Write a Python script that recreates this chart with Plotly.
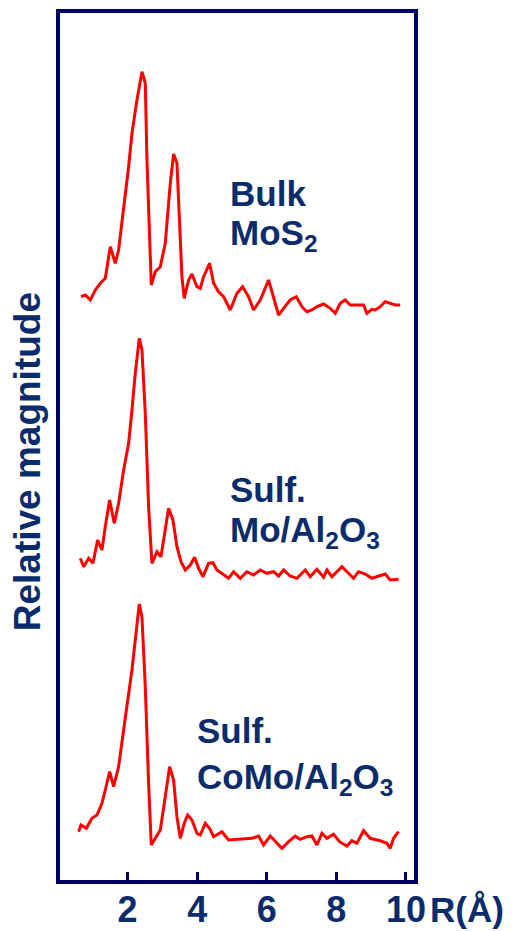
import plotly.graph_objects as go

# Bulk MoS2
r_bulk = [0.660, 0.785, 0.928, 1.072, 1.216, 1.359, 1.503, 1.647, 1.742, 1.886, 2.030, 2.126, 2.269, 2.413,
          2.509, 2.557, 2.604, 2.681, 2.796, 2.940, 3.083, 3.227, 3.323, 3.419, 3.495, 3.562, 3.629, 3.754,
          3.850, 3.993, 4.089, 4.185, 4.357, 4.472, 4.616, 4.760, 4.951, 5.143, 5.306, 5.478, 5.622, 5.813,
          6.053, 6.196, 6.340, 6.484, 6.675, 6.848, 7.011, 7.154, 7.298, 7.442, 7.633, 7.825, 7.968, 8.112,
          8.256, 8.399, 8.591, 8.783, 8.878, 9.022, 9.118, 9.261, 9.405, 9.549, 9.693, 9.836]
m_bulk = [3.3, 5, 0, 10, 16.7, 21.7, 53.3, 36.7, 50, 90, 133.3, 166.7, 200, 228.3,
          216.7, 140, 83.3, 15, 28.3, 33.3, 56.7, 116.7, 146, 136.7, 76.7, 23.3, 1.7, 20,
          26, 13.3, 11.7, 23.3, 36.7, 16.7, 8.3, 3.3, -10, 6.7, 13.3, 3.3, -10, 0,
          20, 3.3, -15, -8.3, 0, 3.3, -6.7, -11.7, -10, -6.7, -4, -8.3, -13.3, -3.3,
          0, -5, -5, -5, -13.3, -9.3, -10, -6.7, -1.7, -3.3, -5, -5]

# Sulfided Mo/Al2O3
r_mo = [0.641, 0.737, 0.880, 1.005, 1.139, 1.263, 1.359, 1.484, 1.618, 1.742, 1.886, 2.030, 2.126, 2.221,
        2.336, 2.413, 2.509, 2.604, 2.700, 2.844, 2.959, 3.083, 3.179, 3.304, 3.419, 3.534, 3.658, 3.802,
        3.926, 4.041, 4.166, 4.328, 4.453, 4.568, 4.760, 4.903, 5.047, 5.239, 5.430, 5.622, 5.813, 6.005,
        6.196, 6.340, 6.484, 6.675, 6.867, 7.106, 7.250, 7.442, 7.633, 7.729, 7.873, 8.160, 8.351, 8.495,
        8.639, 8.830, 9.022, 9.166, 9.405, 9.549, 9.788]
m_mo = [11.7, 3.3, 11.7, 6.7, 30, 20, 43.3, 70, 46.7, 66.7, 100, 126.7, 160, 196.7,
        231.7, 220, 156.7, 63.3, 6.7, 18.3, 13.3, 43.3, 61.7, 50, 23.3, 8.3, 0, 5,
        12.7, 1.7, -6.7, 6.7, 7.3, 0, -5, -8.3, -1.7, -8.3, -1.7, -5, 0, -3.3,
        -1.7, -6, 0, -6, -8.3, 0, -6.7, 0.7, -7.3, 0, -6.7, 3.3, -3.3, -8.3,
        -1.7, -4, -8.3, -6.7, -4, -10, -9.3]

# Sulfided CoMo/Al2O3
r_como = [0.593, 0.660, 0.813, 0.976, 1.120, 1.263, 1.359, 1.484, 1.599, 1.742, 1.886, 2.030, 2.126, 2.221,
          2.336, 2.413, 2.509, 2.604, 2.681, 2.796, 2.940, 3.083, 3.208, 3.323, 3.419, 3.514, 3.629, 3.725,
          3.850, 3.993, 4.089, 4.233, 4.357, 4.472, 4.712, 4.903, 5.239, 5.574, 5.765, 5.909, 6.101, 6.244,
          6.436, 6.627, 6.819, 6.963, 7.154, 7.298, 7.442, 7.585, 7.729, 7.920, 8.093, 8.304, 8.447, 8.591,
          8.783, 8.974, 9.261, 9.453, 9.549, 9.645, 9.788]
m_como = [8.3, 15, 11.7, 21.7, 25, 36.7, 50, 68.3, 53.3, 73.3, 110, 143.3, 170, 200,
          236, 223.3, 153.3, 56.7, -5, 1.7, 10, 43.3, 73.3, 60, 23.3, 1.7, 16.7, 25,
          20, 6.7, 5, 16.7, 11.7, 3.3, 8.3, 0, 0.7, 1.7, 4, -5, 4, -1.7,
          -8.3, -1.7, 4, 0.7, 3.3, 4, -5, 6.7, 1.7, 5.7, -1.7, -6, -0.7, -3.3,
          9.3, 1.7, -0.7, -3.3, -8.3, 1.7, 8.3]

offsets = [582, 312, 42]
tick_vals = [2, 4, 6, 8, 10]
tick_text = ["2", "4", "6", "8", "10"]

NAVY = "#0b2c6c"
FRAME = "#000066"
FONT = "Liberation Sans, Arial, sans-serif"

fig = go.Figure()
for r, m, off in [(r_bulk, m_bulk, offsets[0]), (r_mo, m_mo, offsets[1]), (r_como, m_como, offsets[2])]:
    fig.add_trace(go.Scatter(x=r, y=[v + off for v in m], mode="lines",
                             line=dict(color="#ff0000", width=3), showlegend=False, hoverinfo="skip"))

labels = [
    (4.9, 689, "<b>Bulk</b>"),
    (4.9, 647, "<b>MoS<sub>2</sub></b>"),
    (4.9, 393, "<b>Sulf.</b>"),
    (4.9, 350, "<b>Mo/Al<sub>2</sub>O<sub>3</sub></b>"),
    (3.95, 152, "<b>Sulf.</b>"),
    (3.95, 103, "<b>CoMo/Al<sub>2</sub>O<sub>3</sub></b>"),
]
for x, y, t in labels:
    fig.add_annotation(x=x, y=y, xref="x", yref="y", text=t, showarrow=False,
                       xanchor="left", yanchor="middle", align="left",
                       font=dict(family=FONT, size=35, color=NAVY))

fig.add_annotation(x=-0.0864, y=0.482, xref="paper", yref="paper", text="<b>Relative magnitude</b>",
                   textangle=-90, showarrow=False, xanchor="center", yanchor="middle",
                   font=dict(family=FONT, size=37, color=NAVY))
fig.add_annotation(x=1.033, y=-0.031, xref="paper", yref="paper", text="<b>R(Å)</b>",
                   showarrow=False, xanchor="left", yanchor="middle",
                   font=dict(family=FONT, size=35, color=NAVY))

fig.add_shape(type="rect", xref="paper", yref="paper", x0=0, x1=1, y0=0, y1=1,
              line=dict(color=FRAME, width=4))

fig.update_layout(
    width=521, height=931,
    margin=dict(l=58, r=105, t=11, b=49, autoexpand=False),
    paper_bgcolor="white", plot_bgcolor="white",
    xaxis=dict(range=[0, 10.29], tickvals=tick_vals, ticktext=[f"<b>{t}</b>" for t in tick_text],
               ticks="inside", ticklen=10, tickwidth=3, tickcolor=FRAME, automargin=False,
               showgrid=False, zeroline=False, showline=False, ticklabelstandoff=3,
               tickfont=dict(family=FONT, size=36, color=NAVY)),
    yaxis=dict(range=[0, 871], showticklabels=False, ticks="", showgrid=False, automargin=False,
               zeroline=False, showline=False),
)

fig.write_html("out.html", config={"displayModeBar": False},
               post_script="document.body.style.margin='0';document.body.style.padding='0';document.body.style.overflow='hidden';")
